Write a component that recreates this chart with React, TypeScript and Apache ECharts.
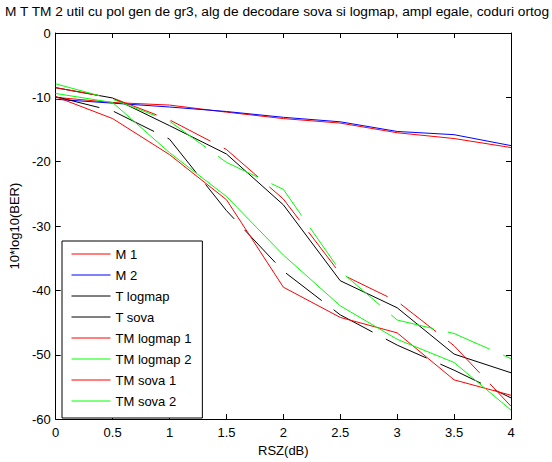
import React, { useEffect, useRef } from "react";
import * as echarts from "echarts";

const TITLE = "M T TM 2 util cu pol gen de gr3, alg de decodare sova si logmap, ampl egale, coduri ortog";
const X_LABEL = "RSZ(dB)";
const Y_LABEL = "10*log10(BER)";

const snr = [0, 0.5, 1, 1.5, 2, 2.5, 3, 3.5, 4];

const m1 = [-10.0, -10.8, -11.2, -12.3, -13.3, -14.0, -15.5, -16.4, -17.8];
const m2 = [-10.3, -10.9, -11.5, -12.2, -13.1, -13.8, -15.3, -15.8, -17.5];
const tLogmap = [-8.5, -10.1, -14.4, -18.8, -26.7, -38.5, -42.7, -49.9, -52.8];
const tSova = [-9.9, -12.1, -16.5, -27.6, -37.0, -43.8, -48.5, -52.4, -56.7];
const tmLogmap1 = [-9.9, -13.3, -18.9, -25.9, -39.5, -44.2, -46.6, -53.9, -56.3];
const tmLogmap2 = [-9.4, -10.8, -18.6, -25.4, -34.5, -42.4, -47.6, -51.2, -58.6];
const tmSova1 = [-8.5, -10.1, -13.5, -18.1, -25.8, -37.4, -41.7, -48.6, -58.0];
const tmSova2 = [-7.9, -10.3, -13.7, -20.1, -24.3, -37.0, -44.6, -46.7, -50.6];

const seriesDefs = [
  { name: "M 1", values: m1, color: "#ff0000", dashed: false },
  { name: "M 2", values: m2, color: "#0000ff", dashed: false },
  { name: "T logmap", values: tLogmap, color: "#000000", dashed: false },
  { name: "T sova", values: tSova, color: "#000000", dashed: true },
  { name: "TM logmap 1", values: tmLogmap1, color: "#ff0000", dashed: false },
  { name: "TM logmap 2", values: tmLogmap2, color: "#00ff00", dashed: false },
  { name: "TM sova 1", values: tmSova1, color: "#ff0000", dashed: true },
  { name: "TM sova 2", values: tmSova2, color: "#00ff00", dashed: true },
];

const FONT = "Arial, 'Liberation Sans', Helvetica, sans-serif";

export default function App() {
  const ref = useRef<HTMLDivElement>(null);
  useEffect(() => {
    if (!ref.current) return;
    const chart = echarts.init(ref.current, undefined, { renderer: "svg" });
    const axisCommon = {
      type: "value" as const,
      axisLine: { show: true, onZero: false, lineStyle: { color: "#000", width: 1 } },
      axisTick: { show: true, inside: true, length: 5, lineStyle: { color: "#000", width: 1 } },
      splitLine: { show: false },
    };
    chart.setOption({
      animation: false,
      backgroundColor: "#ffffff",
      textStyle: { fontFamily: FONT },
      title: {
        text: TITLE,
        left: 5,
        top: 4,
        padding: 0,
        textStyle: { fontSize: 13.7, fontWeight: "normal", color: "#000", fontFamily: FONT },
      },
      grid: { left: 55, right: 41, top: 33, bottom: 40, containLabel: false },
      legend: {
        orient: "vertical",
        left: 62,
        top: 241,
        itemWidth: 39,
        itemHeight: 14,
        itemGap: 7,
        padding: [6, 11, 10, 9],
        backgroundColor: "#fff",
        borderColor: "#000",
        borderWidth: 1,
        borderRadius: 0,
        textStyle: { fontSize: 13, color: "#000", fontFamily: FONT, lineHeight: 14 },
        data: seriesDefs.map((s) => ({
          name: s.name,
          itemStyle: { color: "rgba(0,0,0,0)", opacity: 0, borderWidth: 0 },
          lineStyle: { type: "solid", color: s.color, width: 1, opacity: 1 },
        })),
      },
      xAxis: [
        {
          ...axisCommon,
          min: 0,
          max: 4,
          interval: 0.5,
          position: "bottom",
          name: X_LABEL,
          nameLocation: "middle",
          nameGap: 17,
          nameTextStyle: { fontSize: 13, color: "#000", fontFamily: FONT },
          axisLabel: { color: "#000", fontSize: 13, margin: 7, fontFamily: FONT },
        },
        {
          ...axisCommon,
          min: 0,
          max: 4,
          interval: 0.5,
          position: "top",
          axisLabel: { show: false },
        },
      ],
      yAxis: [
        {
          ...axisCommon,
          min: -60,
          max: 0,
          interval: 10,
          position: "left",
          name: Y_LABEL,
          nameLocation: "middle",
          nameGap: 27,
          nameTextStyle: { fontSize: 13, color: "#000", fontFamily: FONT },
          axisLabel: { color: "#000", fontSize: 13, margin: 5, fontFamily: FONT },
        },
        {
          ...axisCommon,
          min: -60,
          max: 0,
          interval: 10,
          position: "right",
          axisLabel: { show: false },
        },
      ],
      series: seriesDefs.map((s) => ({
        name: s.name,
        type: "line",
        xAxisIndex: 0,
        yAxisIndex: 0,
        symbol: "none",
        showSymbol: false,
        lineStyle: {
          color: s.color,
          width: 1,
          type: s.dashed ? [45, 15] : "solid",
        },
        itemStyle: { color: s.color },
        emphasis: { disabled: true },
        data: snr.map((x, i) => [x, s.values[i]]),
      })),
    });
    return () => chart.dispose();
  }, []);
  return (
    <div
      ref={ref}
      style={{ position: "absolute", left: 0, top: 0, width: 552, height: 462 }}
    />
  );
}
